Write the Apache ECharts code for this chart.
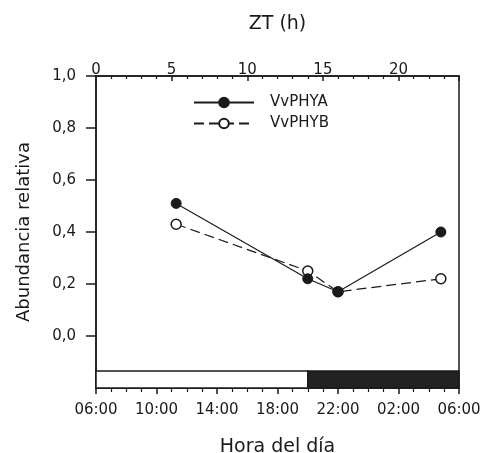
<!DOCTYPE html>
<html>
<head>
<meta charset="utf-8">
<script src="https://cdn.jsdelivr.net/npm/echarts@6/dist/echarts.min.js"></script>
<style>
  html, body { margin: 0; padding: 0; background: #fff; }
  #chart { width: 491px; height: 453px; }
</style>
</head>
<body>
<div id="chart"></div>
<script>
// ZT (h) of each sample
var ztHours = [5.3, 14, 16, 22.8];
var phyA = [0.51, 0.22, 0.17, 0.40];
var phyB = [0.43, 0.25, 0.17, 0.22];

var yTicks = [0, 0.2, 0.4, 0.6, 0.8, 1.0];
var topTicks = [0, 5, 10, 15, 20];
var hourTicks = [0, 4, 8, 12, 16, 20, 24];
var hourLabels = ['06:00', '10:00', '14:00', '18:00', '22:00', '02:00', '06:00'];

// light / dark bar: [start ZT, end ZT, dark?]
var photoperiod = [[0, 14, 0], [14, 24, 1]];
var barTop = -0.135;
var barBottom = -0.2;

var ink = '#1a1a1a';
var font = 'DejaVu Sans';

var chart = echarts.init(document.getElementById('chart'));

chart.setOption({
  backgroundColor: '#fff',
  animation: false,
  textStyle: { fontFamily: font, color: ink },
  grid: {
    left: 96, right: 32, top: 76, bottom: 65,
    outerBoundsMode: 'none',
    containLabel: false,
    show: true, borderColor: ink, borderWidth: 1.5, backgroundColor: 'transparent'
  },
  legend: {
    orient: 'vertical',
    left: 188,
    top: 90,
    itemWidth: 60,
    itemHeight: 12,
    itemGap: 6,
    textStyle: { fontFamily: font, fontSize: 15, color: ink, padding: [0, 0, 0, 11] },
    data: ['VvPHYA', 'VvPHYB']
  },
  xAxis: [
    {
      type: 'value',
      position: 'bottom',
      min: 0, max: 24, interval: 4,
      name: 'Hora del día',
      nameLocation: 'middle',
      nameGap: 50,
      nameTextStyle: { fontFamily: font, fontSize: 19, color: ink },
      axisLine: { show: true, onZero: false, lineStyle: { color: ink, width: 1.5 } },
      axisTick: { show: true, inside: false, length: 6, lineStyle: { color: ink, width: 1.5 } },
      minorTick: { show: true, splitNumber: 4, length: 4, lineStyle: { color: ink, width: 1.2 } },
      splitLine: { show: false },
      axisLabel: {
        margin: 15, fontSize: 15, color: ink, fontFamily: font,
        formatter: function (v) {
          var i = hourTicks.indexOf(v);
          return i >= 0 ? hourLabels[i] : '';
        }
      }
    },
    {
      type: 'value',
      position: 'top',
      min: 0, max: 24, interval: 5,
      name: 'ZT (h)',
      nameLocation: 'middle',
      nameGap: 42,
      nameTextStyle: { fontFamily: font, fontSize: 19, color: ink },
      axisLine: { show: true, onZero: false, lineStyle: { color: ink, width: 1.5 } },
      axisTick: { show: true, inside: true, length: 5, lineStyle: { color: ink, width: 1.5 } },
      minorTick: { show: true, splitNumber: 5, length: 3, lineStyle: { color: ink, width: 1.2 } },
      splitLine: { show: false },
      axisLabel: {
        margin: -2, fontSize: 15, color: ink, fontFamily: font,
        customValues: topTicks
      }
    }
  ],
  yAxis: {
    type: 'value',
    min: -0.2, max: 1.0, interval: 0.2,
    name: 'Abundancia relativa',
    nameLocation: 'middle',
    nameGap: 63,
    nameRotate: 90,
    nameTextStyle: { fontFamily: font, fontSize: 18, color: ink },
    axisLine: { show: true, onZero: false, lineStyle: { color: ink, width: 1.5 } },
    axisTick: { show: true, inside: false, length: 10, lineStyle: { color: ink, width: 1.5 }, customValues: yTicks },
    splitLine: { show: false },
    axisLabel: {
      margin: 20, fontSize: 15, color: ink, fontFamily: font,
      customValues: yTicks,
      formatter: function (v) { return v.toFixed(1).replace('.', ','); }
    }
  },
  series: [
    {
      type: 'custom',
      xAxisIndex: 0,
      silent: true,
      z: 1,
      data: photoperiod,
      renderItem: function (params, api) {
        var p0 = api.coord([api.value(0), barTop]);
        var p1 = api.coord([api.value(1), barBottom]);
        var dark = api.value(2) === 1;
        return {
          type: 'rect',
          shape: { x: p0[0], y: p0[1], width: p1[0] - p0[0], height: p1[1] - p0[1] },
          style: { fill: dark ? '#222' : '#fff', stroke: ink, lineWidth: 1.5 }
        };
      }
    },
    {
      name: 'VvPHYA',
      type: 'line',
      xAxisIndex: 0,
      z: 3,
      data: ztHours.map(function (x, i) { return [x, phyA[i]]; }),
      symbol: 'circle',
      symbolSize: 10,
      lineStyle: { color: ink, width: 1.2, type: 'solid' },
      itemStyle: { color: ink, borderColor: ink, borderWidth: 1 }
    },
    {
      name: 'VvPHYB',
      type: 'line',
      xAxisIndex: 0,
      z: 2,
      data: ztHours.map(function (x, i) { return [x, phyB[i]]; }),
      symbol: 'circle',
      symbolSize: 10,
      lineStyle: { color: ink, width: 1.2, type: [10, 5] },
      itemStyle: { color: '#fff', borderColor: ink, borderWidth: 1.5 }
    }
  ]
});
</script>
</body>
</html>
